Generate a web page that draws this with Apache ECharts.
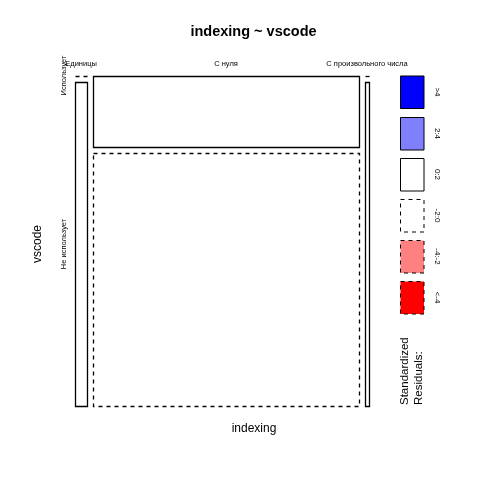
<!DOCTYPE html>
<html>
<head>
<meta charset="utf-8">
<script src="https://cdn.jsdelivr.net/npm/echarts@6/dist/echarts.min.js"></script>
<style>html,body{margin:0;padding:0;background:#fff}#c{width:480px;height:480px}</style>
</head>
<body>
<div id="c"></div>
<script>
const indexingLevels = ['Единицы', 'С нуля', 'С произвольного числа'];
const vscodeLevels = ['Использует', 'Не использует'];
const countsUses = [0, 29, 0];
const countsNotUses = [6, 103, 2];
const legendLabels = ['>4', '2:4', '0:2', '-2:0', '-4:-2', '<-4'];
const legendColors = ['#0000ff', '#8080ff', '#ffffff', '#ffffff', '#ff8080', '#ff0000'];
const legendDashed = [false, false, false, true, true, true];

const FONT = 'Liberation Sans, Arial, sans-serif';
const counts = [countsUses, countsNotUses];
const colTotals = indexingLevels.map((_, j) => countsUses[j] + countsNotUses[j]);
const rowTotals = counts.map(r => r.reduce((a, b) => a + b, 0));
const total = colTotals.reduce((a, b) => a + b, 0);

const gridL = 75, gridT = 75.5, gridW = 294, gridH = 330.5;
const gapX = 6 / gridW, gapY = 6.5 / gridH;

// layout in [0,1] units
const colX = [];
let acc = 0;
colTotals.forEach((t, j) => {
  const w = (1 - 2 * gapX) * t / total;
  colX.push([acc, acc + w]);
  acc += w + gapX;
});
function rowY(j) {
  const h0 = (1 - gapY) * countsUses[j] / colTotals[j];
  return [[0, h0], [h0 + gapY, 1]];
}

const cells = [];
for (let i = 0; i < 2; i++) {
  for (let j = 0; j < 3; j++) {
    const obs = counts[i][j];
    const exp = rowTotals[i] * colTotals[j] / total;
    const res = (obs - exp) / Math.sqrt(exp);
    cells.push([j, i, obs, res]);
  }
}
function fillFor(res) {
  if (res > 4) return legendColors[0];
  if (res > 2) return legendColors[1];
  if (res < -4) return legendColors[5];
  if (res < -2) return legendColors[4];
  return '#ffffff';
}

const chart = echarts.init(document.getElementById('c'), null, {renderer: 'canvas'});

const graphics = [];
graphics.push({type: 'text', x: 253.5, y: 32, style: {text: 'indexing ~ vscode', align: 'center', verticalAlign: 'middle', font: 'bold 14.5px ' + FONT, fill: '#000'}});
// legend boxes
const boxTop = [76, 117.5, 158.5, 199.5, 240.5, 281.5];
legendLabels.forEach((lab, k) => {
  graphics.push({type: 'rect', shape: {x: 400.5, y: boxTop[k], width: 23.5, height: 32.5},
    style: {fill: legendColors[k], stroke: '#000', lineWidth: 1, lineDash: legendDashed[k] ? [4, 4] : null}});
  graphics.push({type: 'text', x: 437, y: boxTop[k] + 16, rotation: -Math.PI / 2,
    style: {text: lab, align: 'center', verticalAlign: 'middle', font: '8px ' + FONT, fill: '#000'}});
});
graphics.push({type: 'text', x: 405, y: 405, rotation: Math.PI / 2,
  style: {text: 'Standardized', align: 'left', verticalAlign: 'middle', font: '11.5px ' + FONT, fill: '#000'}});
graphics.push({type: 'text', x: 419, y: 405, rotation: Math.PI / 2,
  style: {text: 'Residuals:', align: 'left', verticalAlign: 'middle', font: '11.5px ' + FONT, fill: '#000'}});

const option = {
  animation: false,
  backgroundColor: '#fff',
  grid: {left: gridL, top: gridT, width: gridW, height: gridH, containLabel: false},
  xAxis: {type: 'value', min: 0, max: 1, show: false, name: 'indexing'},
  yAxis: {type: 'value', min: 0, max: 1, inverse: true, show: false, name: 'vscode'},
  graphic: graphics,
  series: [
    {
      type: 'custom',
      data: cells,
      clip: false,
      renderItem: function (params, api) {
        const j = api.value(0), i = api.value(1), obs = api.value(2), res = api.value(3);
        const xr = colX[j], yr = rowY(j)[i];
        const p0 = api.coord([xr[0], yr[0]]);
        const p1 = api.coord([xr[1], yr[1]]);
        const dash = res < 0 ? [4, 4] : null;
        const x0 = Math.round(p0[0]) + 0.5, x1 = Math.round(p1[0]) + 0.5;
        const y0 = Math.round(p0[1]) + 0.5, y1 = Math.round(p1[1]) + 0.5;
        if (obs === 0) {
          return {type: 'line', shape: {x1: x0, y1: y0, x2: x1, y2: y0},
            style: {stroke: '#000', lineWidth: 1.3, lineDash: dash}};
        }
        return {type: 'rect', shape: {x: x0, y: y0, width: x1 - x0, height: y1 - y0},
          style: {fill: fillFor(res), stroke: '#000', lineWidth: 1.3, lineDash: dash}};
      }
    },
    {
      type: 'custom',
      data: indexingLevels.map((l, j) => [j]),
      clip: false,
      renderItem: function (params, api) {
        const j = api.value(0);
        const p = api.coord([(colX[j][0] + colX[j][1]) / 2, 0]);
        return {type: 'text', x: p[0], y: p[1] - 12,
          style: {text: indexingLevels[j], align: 'center', verticalAlign: 'middle', font: '7.5px ' + FONT, fill: '#000'}};
      }
    },
    {
      type: 'custom',
      data: vscodeLevels.map((l, i) => [i]),
      clip: false,
      renderItem: function (params, api) {
        const i = api.value(0);
        const yr = rowY(0)[i];
        const p = api.coord([0, (yr[0] + yr[1]) / 2]);
        return {type: 'text', x: p[0] - 11, y: p[1], rotation: Math.PI / 2,
          style: {text: vscodeLevels[i], align: 'center', verticalAlign: 'middle', font: '7.5px ' + FONT, fill: '#000'}};
      }
    },
    {
      type: 'custom',
      data: [[0]],
      clip: false,
      renderItem: function (params, api) {
        const pBot = api.coord([0, 1]);
        return {type: 'group', children: [
          {type: 'text', x: 254, y: pBot[1] + 23,
            style: {text: 'indexing', align: 'center', verticalAlign: 'middle', font: '12px ' + FONT, fill: '#000'}},
          {type: 'text', x: 38, y: 244, rotation: Math.PI / 2,
            style: {text: 'vscode', align: 'center', verticalAlign: 'middle', font: '12px ' + FONT, fill: '#000'}}
        ]};
      }
    }
  ]
};
chart.setOption(option);
</script>
</body>
</html>
